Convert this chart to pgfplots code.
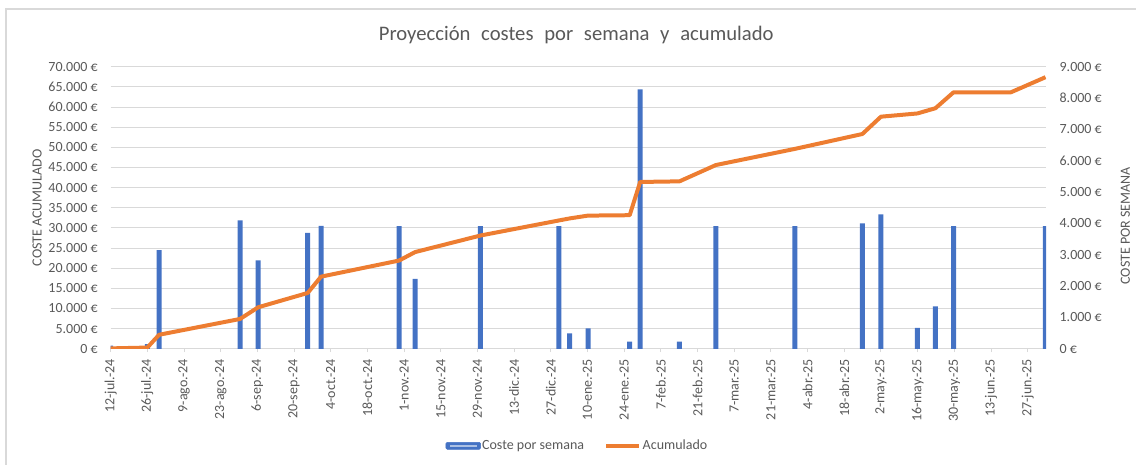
\documentclass[border=0pt]{standalone}
\usepackage{fontspec}
\setmainfont{Carlito}
\usepackage{pgfplots}
\pgfplotsset{compat=1.18}
\definecolor{barblue}{HTML}{4472C4}
\definecolor{lineorange}{HTML}{ED7D31}
\definecolor{gridgray}{HTML}{D9D9D9}
\definecolor{txtgray}{HTML}{595959}

\pgfplotsset{
  base/.style={
    scale only axis, width=702pt, height=211.7pt,
    xmin=0, xmax=357,
    at={(0pt,0pt)}, anchor=south west,
    scaled y ticks=false, scaled x ticks=false,
    /pgf/number format/assume math mode=true,
    /pgf/number format/fixed,
    /pgf/number format/precision=0,
    /pgf/number format/1000 sep={.},
    tick label style={font=\fontsize{10.5}{12}\selectfont, text=txtgray},
    label style={font=\fontsize{10.5}{12}\selectfont, text=txtgray},
  }
}

\begin{document}
\begin{tikzpicture}
\path (-83.03pt,-87pt) rectangle (769.72pt,261.75pt);
\draw[gridgray, line width=1.1pt] (-78.5pt,-87pt) -- (-78.5pt,255pt) -- (769.72pt,255pt);

% background axis: grid, left ticks, x ticks
\begin{axis}[base,
  ymin=0, ymax=70000, ytick distance=5000,
  ymajorgrids, grid style={gridgray, line width=0.75pt},
  axis x line*=bottom, axis y line*=left,
  y axis line style={draw=none},
  x axis line style={gridgray, line width=0.75pt, -},
  ytick style={draw=none},
  xtick={0,14,...,350},
  xticklabels={12-jul.-24,26-jul.-24,9-ago.-24,23-ago.-24,6-sep.-24,20-sep.-24,4-oct.-24,18-oct.-24,1-nov.-24,15-nov.-24,29-nov.-24,13-dic.-24,27-dic.-24,10-ene.-25,24-ene.-25,7-feb.-25,21-feb.-25,7-mar.-25,21-mar.-25,4-abr.-25,18-abr.-25,2-may.-25,16-may.-25,30-may.-25,13-jun.-25,27-jun.-25},
  xtick style={gridgray, line width=0.75pt},
  tick align=outside, major tick length=2.5pt,
  xticklabel style={rotate=90, anchor=east, inner sep=0pt},
  xticklabel shift=5pt,
  yticklabel style={anchor=east, inner sep=0pt},
  yticklabel shift=7pt,
  yticklabel={\pgfmathprintnumber{\tick}~€},
  ylabel={COSTE ACUMULADO},
  ylabel style={at={(axis description cs:-0.0787,0.5)}, anchor=center},
  title={Proyección\hspace{0.52em}costes\hspace{0.52em}por\hspace{0.52em}semana\hspace{0.52em}y\hspace{0.52em}acumulado},
  title style={at={(axis description cs:0.4977,1.1123)}, anchor=center, yshift=-6pt, font=\fontsize{15.5}{18}\selectfont, text=txtgray},
]
\end{axis}

% bars on right axis
\begin{axis}[base, ybar, bar width=3.75pt,
  ymin=0, ymax=9000, ytick distance=1000,
  axis y line*=right, axis x line=none,
  xtick=\empty,
  y axis line style={draw=none}, ytick style={draw=none},
  yticklabel style={anchor=west, inner sep=0pt},
  yticklabel shift=10pt,
  yticklabel={\pgfmathprintnumber{\tick}~€},
  ylabel={COSTE POR SEMANA},
  ylabel style={at={(axis description cs:1.0847,0.4357)}, anchor=center},
]
\addplot[fill=barblue, draw=none] coordinates {
(0,100) (14,150) (18.5,3150) (49.4,4100) (56.3,2820) (75.2,3700) (80.3,3920)
(110.1,3910) (116.2,2230) (141.1,3910) (171.1,3910) (175.2,490) (182.2,650)
(198.1,230) (202.1,8280) (217.1,230) (231,3910) (261.1,3910) (286.9,4000)
(294,4290) (307.9,670) (314.8,1350) (321.7,3910) (356.7,3910)
};
\end{axis}

% cumulative line on left axis
\begin{axis}[base, hide axis, ymin=0, ymax=70000,
  legend style={at={(axis description cs:0.4987,-0.344)}, anchor=center, draw=none, fill=none,
    legend columns=2, font=\fontsize{10.5}{12}\selectfont, text=txtgray,
    /tikz/every even column/.append style={column sep=14pt},
    nodes={inner sep=1pt}},
]
\addlegendimage{legend image code/.code={
  \fill[barblue, rounded corners=1pt] (0pt,-2.6pt) rectangle (26pt,2.6pt);
  \draw[line width=1.1pt, color=barblue!45!white] (3pt,0pt) -- (23pt,0pt);}}
\addlegendentry{Coste por semana}
\addplot[lineorange, line width=3pt, line join=round, no markers,
  legend image code/.code={\draw[lineorange, line width=3pt] (0pt,0pt) -- (25pt,0pt);}] coordinates {
(0,100) (14,300) (18.5,3480) (49.4,7400) (56.3,10300) (75.2,13850) (80.3,17900)
(110.1,21900) (116.2,24000) (141.1,28100) (171.1,31850) (175.2,32350) (182.2,33050)
(198.1,33150) (202.1,41400) (217.1,41550) (231,45600) (261.1,49600) (286.9,53300)
(294,57600) (307.9,58400) (314.8,59700) (321.7,63650) (343.6,63650) (356.8,67400)
};
\addlegendentry{Acumulado}
\end{axis}
\end{tikzpicture}
\end{document}
